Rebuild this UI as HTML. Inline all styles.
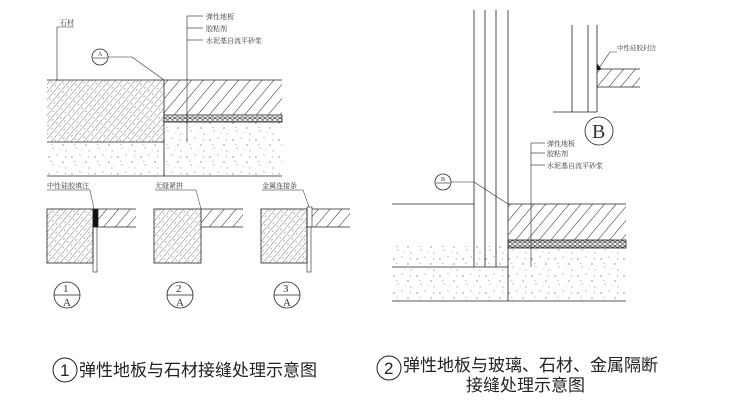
<!DOCTYPE html>
<html><head><meta charset="utf-8"><style>
html,body{margin:0;padding:0;background:#fff;width:740px;height:400px;overflow:hidden}
svg{display:block}
.t{font-family:"Liberation Serif","Noto Serif CJK SC",serif;font-size:7px;fill:#333}
.c{font-family:"Liberation Sans","Noto Sans CJK SC",sans-serif;font-size:17px;fill:#222}
</style></head><body>
<svg width="740" height="400" viewBox="0 0 740 400" xmlns="http://www.w3.org/2000/svg">
<defs>
<pattern id="st" width="5" height="7" patternUnits="userSpaceOnUse" patternTransform="rotate(40)">
<line x1="0" y1="0" x2="0" y2="7" stroke="#444" stroke-width="0.7"/>
<line x1="2.5" y1="1" x2="2.5" y2="3" stroke="#666" stroke-width="0.5"/>
</pattern>
<pattern id="fl" width="9" height="9" patternUnits="userSpaceOnUse" patternTransform="rotate(40)">
<line x1="0" y1="0" x2="0" y2="9" stroke="#222" stroke-width="1"/>
</pattern>
<pattern id="cn" width="23" height="17" patternUnits="userSpaceOnUse">
<circle cx="3" cy="4" r="0.6" fill="#555"/><circle cx="11" cy="2" r="0.5" fill="#666"/>
<circle cx="17" cy="9" r="0.6" fill="#555"/><circle cx="7" cy="12" r="0.5" fill="#666"/>
<circle cx="20" cy="15" r="0.5" fill="#555"/><circle cx="14" cy="14" r="0.4" fill="#777"/>
<line x1="5" y1="8" x2="6.5" y2="8.5" stroke="#777" stroke-width="0.5"/>
<line x1="19" y1="3" x2="20" y2="4.5" stroke="#777" stroke-width="0.5"/>
</pattern>
<pattern id="gr" width="5" height="8" patternUnits="userSpaceOnUse">
<rect width="5" height="8" fill="#fff"/>
<ellipse cx="2.5" cy="2" rx="2" ry="1.2" fill="none" stroke="#222" stroke-width="0.7"/>
<ellipse cx="2.5" cy="6" rx="2" ry="1.2" fill="none" stroke="#222" stroke-width="0.7"/>
</pattern>
</defs>
<g stroke="#222" stroke-width="0.8" fill="none">
<rect x="47" y="80" width="117" height="62" fill="url(#st)" stroke="none"/>
<rect x="47" y="142" width="117" height="34" fill="url(#cn)" stroke="none"/>
<rect x="164" y="80" width="118" height="35" fill="url(#fl)" stroke="none"/>
<rect x="164" y="115" width="118" height="7" fill="url(#gr)"/>
<rect x="164" y="122" width="118" height="54" fill="url(#cn)" stroke="none"/>
<line x1="47" y1="80" x2="282" y2="80"/>
<line x1="47" y1="142" x2="164" y2="142"/>
<line x1="47" y1="176" x2="282" y2="176"/>
<line x1="164" y1="80" x2="164" y2="176"/>
<polyline points="57,80 57,27 74,27" stroke-width="0.6"/>
<circle cx="100" cy="57" r="8"/>
<line x1="93" y1="58" x2="107" y2="58" stroke-width="0.6"/>
<polyline points="108,57 132,57 164,80" stroke-width="0.6"/>
<line x1="187" y1="16" x2="187" y2="142" stroke-width="0.6"/>
<line x1="187" y1="16" x2="203" y2="16" stroke-width="0.6"/>
<line x1="187" y1="28" x2="203" y2="28" stroke-width="0.6"/>
<line x1="187" y1="40" x2="203" y2="40" stroke-width="0.6"/>
<rect x="47" y="209" width="46" height="54" fill="url(#st)"/>
<rect x="93" y="209" width="5" height="18" fill="#111"/>
<rect x="98" y="209" width="38" height="18" fill="url(#fl)" stroke="none"/>
<polyline points="98,209 136,209" /><polyline points="98,227 136,227"/>
<rect x="93" y="227" width="4" height="45" stroke-width="0.6"/>
<polyline points="47,190 90,190 94,209" stroke-width="0.5"/>
<circle cx="67" cy="295" r="13"/><line x1="54" y1="295" x2="80" y2="295"/>
<rect x="154" y="209" width="47" height="54" fill="url(#st)"/>
<rect x="201" y="209" width="42" height="18" fill="url(#fl)" stroke="none"/>
<line x1="201" y1="209" x2="243" y2="209"/><line x1="201" y1="227" x2="243" y2="227"/>
<polyline points="155,190 196,190 201,209" stroke-width="0.5"/>
<circle cx="180" cy="295" r="13"/><line x1="167" y1="295" x2="193" y2="295"/>
<rect x="261" y="209" width="46" height="54" fill="url(#st)"/>
<rect x="307" y="207" width="5" height="20" stroke-width="0.6"/>
<rect x="312" y="209" width="38" height="18" fill="url(#fl)" stroke="none"/>
<line x1="312" y1="209" x2="350" y2="209"/><line x1="312" y1="227" x2="350" y2="227"/>
<rect x="307" y="227" width="4" height="45" stroke-width="0.6"/>
<polyline points="262,190 303,190 309,207" stroke-width="0.5"/>
<circle cx="287" cy="295" r="13"/><line x1="274" y1="295" x2="300" y2="295"/>
<rect x="392" y="245" width="116" height="56" fill="url(#cn)" stroke="none"/>
<rect x="508" y="248" width="118" height="53" fill="url(#cn)" stroke="none"/>
<rect x="508" y="204" width="118" height="36" fill="url(#fl)" stroke="none"/>
<rect x="508" y="240" width="118" height="8" fill="url(#gr)"/>
<line x1="474" y1="10" x2="474" y2="267"/>
<line x1="485" y1="10" x2="485" y2="267"/>
<line x1="496" y1="10" x2="496" y2="267"/>
<line x1="508" y1="10" x2="508" y2="301"/>
<line x1="392" y1="204" x2="474" y2="204"/>
<line x1="508" y1="204" x2="626" y2="204"/>
<line x1="392" y1="267" x2="508" y2="267"/>
<line x1="392" y1="301" x2="626" y2="301"/>
<circle cx="443" cy="182" r="8"/><line x1="436" y1="183" x2="450" y2="183" stroke-width="0.6"/>
<polyline points="451,182 474,182 508,204" stroke-width="0.6"/>
<line x1="531" y1="143" x2="531" y2="267" stroke-width="0.6"/>
<line x1="531" y1="143" x2="545" y2="143" stroke-width="0.6"/>
<line x1="531" y1="153" x2="545" y2="153" stroke-width="0.6"/>
<line x1="531" y1="165" x2="545" y2="165" stroke-width="0.6"/>
<line x1="572" y1="25" x2="572" y2="112"/>
<line x1="588" y1="25" x2="588" y2="112"/>
<line x1="597" y1="25" x2="597" y2="112"/>
<line x1="553" y1="112" x2="597" y2="112"/>
<rect x="597" y="69" width="43" height="18" fill="url(#fl)" stroke="none"/>
<line x1="597" y1="69" x2="640" y2="69"/><line x1="597" y1="87" x2="640" y2="87"/>
<path d="M597,64 L601,69 L597,70 Z" fill="#111"/>
<polyline points="617,52 610,52 599,68" stroke-width="0.6"/>
<circle cx="599" cy="131" r="14"/>
<circle cx="65" cy="370" r="12" stroke-width="1"/>
<circle cx="389" cy="368" r="12" stroke-width="1"/>
</g>
<text class="t" x="60" y="25">石材</text>
<text class="t" x="206" y="19">弹性地板</text>
<text class="t" x="206" y="31">胶粘剂</text>
<text class="t" x="206" y="43">水泥基自流平砂浆</text>
<text class="t" x="98" y="56" style="font-size:6px">A</text>
<text class="t" x="47" y="188">中性硅胶填注</text>
<text class="t" x="155" y="188">无缝紧拼</text>
<text class="t" x="262" y="188">金属连接条</text>
<text class="t" x="63" y="292" style="font-size:11px">1</text><text class="t" x="63" y="306" style="font-size:11px">A</text>
<text class="t" x="176" y="292" style="font-size:11px">2</text><text class="t" x="176" y="306" style="font-size:11px">A</text>
<text class="t" x="283" y="292" style="font-size:11px">3</text><text class="t" x="283" y="306" style="font-size:11px">A</text>
<text class="t" x="441" y="181" style="font-size:6px">B</text>
<text class="t" x="547" y="146">弹性地板</text>
<text class="t" x="547" y="156">胶粘剂</text>
<text class="t" x="547" y="168">水泥基自流平砂浆</text>
<text class="t" x="617" y="50" style="font-size:6.5px">中性硅胶封边</text>
<text class="t" x="592" y="138" style="font-size:20px">B</text>
<text class="c" x="60" y="376">1</text>
<text class="c" x="79" y="376">弹性地板与石材接缝处理示意图</text>
<text class="c" x="384" y="374">2</text>
<text class="c" x="403" y="371">弹性地板与玻璃、石材、金属隔断</text>
<text class="c" x="466" y="391">接缝处理示意图</text>
</svg>
</body></html>
